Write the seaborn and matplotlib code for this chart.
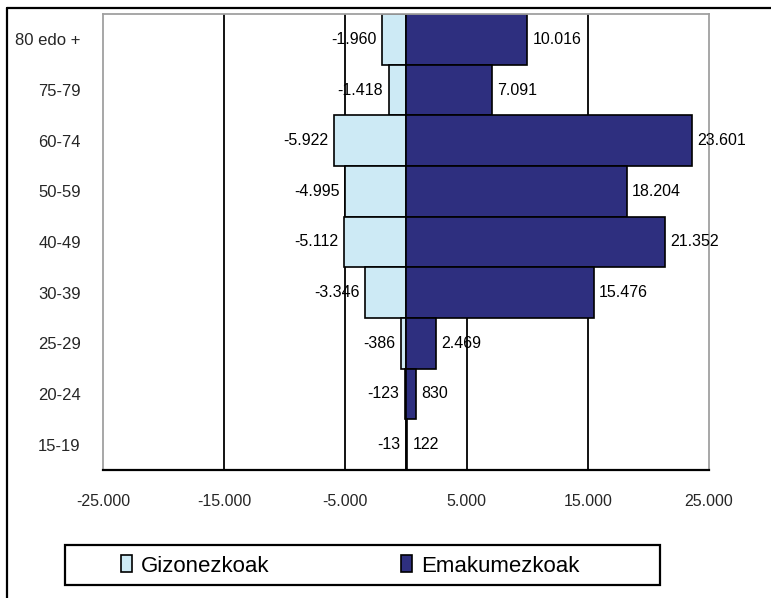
import matplotlib
matplotlib.use("Agg")
import matplotlib.pyplot as plt
import seaborn as sns
import pandas as pd
from matplotlib.patches import Rectangle
from matplotlib.lines import Line2D

categories = ["80 edo +", "75-79", "60-74", "50-59", "40-49", "30-39", "25-29", "20-24", "15-19"]
gizonezkoak = [-1960, -1418, -5922, -4995, -5112, -3346, -386, -123, -13]
emakumezkoak = [10016, 7091, 23601, 18204, 21352, 15476, 2469, 830, 122]
xticks = [-25000, -15000, -5000, 5000, 15000, 25000]

sns.set_theme(style="white")
plt.rcParams['font.family'] = ['Liberation Sans', 'DejaVu Sans']

def fmt(v):
    s = f"{abs(int(v)):,}".replace(",", ".")
    return ("-" if v < 0 else "") + s

W, H = 771, 598
fig = plt.figure(figsize=(7.71, 5.98), dpi=100)
ax = fig.add_axes([103/W, 1-470/H, 606/W, 456/H])

df = pd.DataFrame({"cat": categories, "g": gizonezkoak, "e": emakumezkoak})

for t in xticks[1:-1]:
    ax.axvline(t, color="black", lw=1.3, zorder=0)

sns.barplot(data=df, x="g", y="cat", orient="h", color="#CDEAF5", width=1.0,
            edgecolor="black", linewidth=1.2, label="Gizonezkoak", ax=ax,
            saturation=1, zorder=2)
sns.barplot(data=df, x="e", y="cat", orient="h", color="#2E2F7F", width=1.0,
            edgecolor="black", linewidth=1.2, label="Emakumezkoak", ax=ax,
            saturation=1, zorder=2)

for cont in ax.containers:
    ax.bar_label(cont, labels=[fmt(b.get_width()) for b in cont], padding=4,
                 fontsize=11.5, color="black")

ax.set_xlim(-25000, 25000)
ax.set_ylim(8.5, -0.5)
ax.set_xticks(xticks)
ax.set_xticklabels([fmt(t) for t in xticks], fontsize=11.5)
ax.tick_params(axis="x", direction="out", length=5, width=1.3, color="black", pad=12)
ax.tick_params(axis="y", length=0, pad=16, labelsize=12)
ax.set_xlabel("")
ax.set_ylabel("")
for s in ["left", "right", "top"]:
    ax.spines[s].set_color("#A0A0A0")
    ax.spines[s].set_linewidth(1.3)
ax.spines["bottom"].set_color("black")
ax.spines["bottom"].set_linewidth(1.6)

if ax.get_legend():
    ax.get_legend().remove()
handles, labels = ax.get_legend_handles_labels()

# legend box
fig.patches.append(Rectangle((65/W, 1-585/H), 595/W, 40/H, transform=fig.transFigure,
                             fill=False, edgecolor="black", lw=1.6))
ycen = 1 - 566/H
for h, l, x0 in [(handles[0], labels[0], 121/W), (handles[1], labels[1], 401/W)]:
    lg = fig.legend([h], [l], loc="center left", bbox_to_anchor=(x0, ycen),
                    frameon=False, fontsize=16, handlelength=0.5, handleheight=0.8,
                    handletextpad=0.4, borderaxespad=0, borderpad=0)
    for text in lg.get_texts():
        text.set_color("black")

# outer frame (left and top only)
fig.lines.append(Line2D([7/W, 7/W], [0, 1-8/H], transform=fig.transFigure, color="black", lw=1.6))
fig.lines.append(Line2D([7/W, 1], [1-8/H, 1-8/H], transform=fig.transFigure, color="black", lw=1.6))

fig.savefig("out.png", dpi=100, facecolor="white")
